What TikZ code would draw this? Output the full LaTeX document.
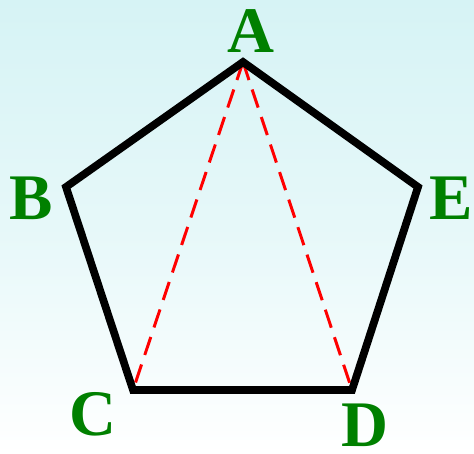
\documentclass[tikz,border=0pt]{standalone}
\usepackage{fontspec}
\setmainfont{Liberation Serif}
\usepackage{xcolor}
\usetikzlibrary{arrows.meta, positioning, calc}
\definecolor{skytop}{HTML}{D6F3F5}
\definecolor{skymid}{HTML}{E6F8F9}
\definecolor{labelgreen}{HTML}{008000}

\begin{document}
\begin{tikzpicture}[
    vertex/.style={font=\fontsize{37}{37}\selectfont\bfseries, text=labelgreen, inner sep=0pt},
    edge/.style={line width=4.4pt, line join=miter, black},
    diag/.style={red, line width=1.7pt, dash pattern=on 0.38cm off 0.2cm},
]
\shade[top color=skytop, bottom color=white, middle color=skymid] (0,0) rectangle (9.48,9.06);
\useasboundingbox (0,0) rectangle (9.48,9.06);
\coordinate (a) at (4.86,7.82);
\coordinate (b) at (1.32,5.32);
\coordinate (c) at (2.66,1.26);
\coordinate (d) at (7.04,1.26);
\coordinate (e) at (8.36,5.32);
\node[vertex] (la) at (5.02,8.44) {A};
\node[vertex] (lb) at (0.62,5.10) {B};
\node[vertex] (lc) at (1.86,0.78) {C};
\node[vertex] (ld) at (7.30,0.56) {D};
\node[vertex] (le) at (9.02,5.09) {E};

\draw[diag] (a) -- (c);
\draw[diag] (a) -- (d);
\draw[edge] (a) -- (b) -- (c) -- (d) -- (e) -- cycle;
\end{tikzpicture}
\end{document}
